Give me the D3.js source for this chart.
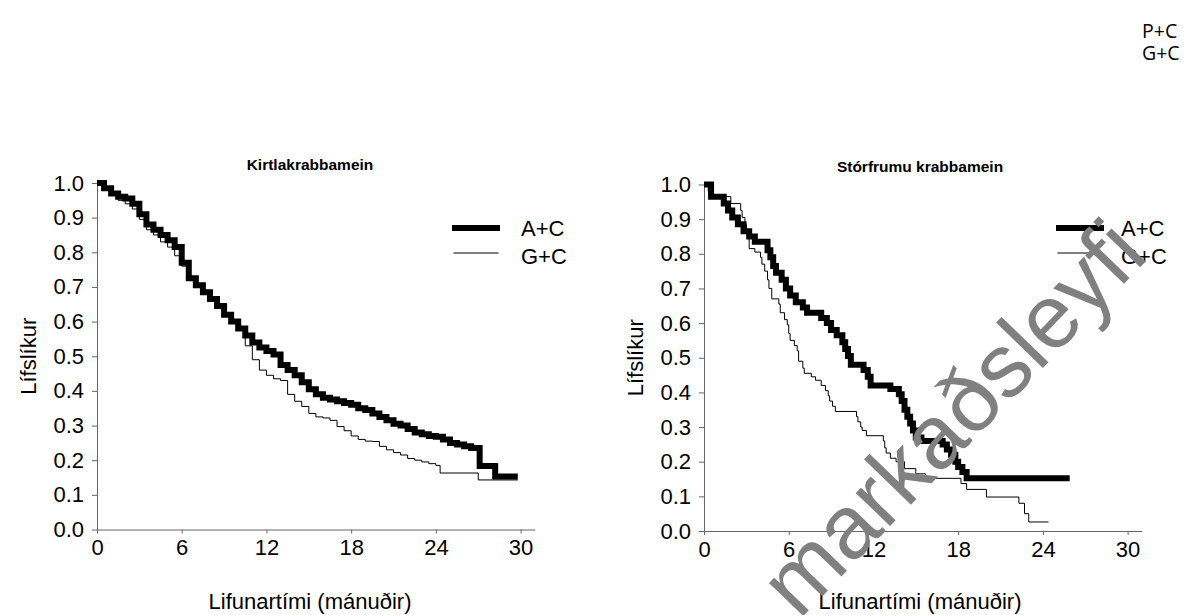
<!DOCTYPE html>
<html>
<head>
<meta charset="utf-8">
<script src="https://cdn.jsdelivr.net/npm/d3@7"></script>
<style>
body { margin: 0; background: #fff; }
text { font-family: "Liberation Sans", Arial, sans-serif; }
</style>
</head>
<body>
<div class="chart"></div>
<script>
//tick labels and texts
var months = [0, 6, 12, 18, 24, 30];
var survival = [0, 0.1, 0.2, 0.3, 0.4, 0.5, 0.6, 0.7, 0.8, 0.9, 1.0];
var seriesNames = ["A+C", "G+C"];
var cornerLegend = ["P+C", "G+C"];
var panelTitles = ["Kirtlakrabbamein", "Stórfrumu krabbamein"];
var xTitle = "Lifunartími (mánuðir)";
var yTitle = "Lífslíkur";
var watermark = "markaðsleyfi";

//Kaplan-Meier steps: [month, survival]
var kirtlaAC = [[0,1.0],[0.5,0.985],[1,0.97],[1.5,0.96],[2,0.955],[2.5,0.94],[3,0.91],[3.5,0.88],[4,0.865],[4.5,0.85],[5,0.835],[5.5,0.815],[6,0.77],[6.5,0.725],[7,0.705],[7.5,0.685],[8,0.665],[8.5,0.645],[9,0.62],[9.5,0.6],[10,0.58],[10.5,0.56],[11,0.54],[11.5,0.525],[12,0.515],[12.5,0.505],[13,0.475],[13.5,0.46],[14,0.445],[14.5,0.425],[15,0.405],[15.5,0.39],[16,0.38],[16.5,0.375],[17,0.37],[17.5,0.365],[18,0.36],[18.5,0.35],[19,0.345],[19.5,0.335],[20,0.325],[20.5,0.315],[21,0.305],[21.5,0.3],[22,0.29],[22.5,0.28],[23,0.275],[23.5,0.27],[24,0.268],[24.5,0.26],[25,0.25],[25.5,0.245],[26,0.24],[26.5,0.235],[27.1,0.183],[28.2,0.153],[29.8,0.153]];

var kirtlaGC = [[0,1.0],[0.5,0.985],[1,0.97],[1.5,0.95],[2,0.94],[2.5,0.925],[3,0.895],[3.5,0.865],[4,0.85],[4.5,0.83],[5,0.815],[5.5,0.79],[6,0.76],[6.5,0.725],[7,0.705],[7.5,0.685],[8,0.665],[8.5,0.645],[9,0.62],[9.5,0.6],[10,0.575],[10.5,0.53],[11,0.49],[11.5,0.46],[12,0.445],[12.5,0.435],[13,0.43],[13.5,0.39],[14,0.37],[14.5,0.355],[15,0.335],[15.5,0.325],[16,0.322],[16.5,0.315],[17,0.297],[17.5,0.285],[18,0.27],[18.5,0.26],[19,0.255],[19.5,0.254],[20,0.24],[20.5,0.23],[21,0.222],[21.5,0.215],[22,0.205],[22.5,0.2],[23,0.195],[23.5,0.19],[24,0.185],[24.3,0.163],[27,0.143],[29.8,0.143]];

var storAC = [[0,1.0],[0.5,0.965],[1.4,0.945],[1.7,0.925],[2.0,0.905],[2.4,0.885],[2.8,0.865],[3.2,0.85],[3.6,0.835],[4.5,0.81],[4.7,0.79],[4.9,0.765],[5.1,0.745],[5.5,0.725],[5.8,0.7],[6.1,0.68],[6.5,0.66],[7.0,0.645],[7.3,0.63],[8.3,0.615],[8.7,0.6],[9.0,0.58],[9.4,0.565],[9.8,0.545],[10.0,0.525],[10.2,0.505],[10.4,0.48],[11.3,0.465],[11.6,0.445],[11.8,0.42],[13.2,0.41],[13.8,0.395],[14.0,0.375],[14.2,0.35],[14.4,0.33],[14.6,0.31],[14.8,0.29],[15.0,0.27],[15.4,0.26],[16.9,0.25],[17.2,0.235],[17.5,0.22],[17.8,0.2],[18.0,0.185],[18.3,0.17],[18.6,0.152],[25.9,0.152]];

var storGC = [[0,1.0],[0.3,0.98],[0.6,0.965],[1.9,0.945],[2.6,0.925],[2.7,0.905],[2.9,0.885],[3.0,0.865],[3.1,0.85],[3.2,0.815],[3.6,0.805],[4.0,0.79],[4.1,0.77],[4.3,0.75],[4.5,0.725],[4.6,0.7],[4.8,0.67],[5.3,0.655],[5.4,0.63],[5.7,0.61],[5.9,0.595],[6.0,0.57],[6.1,0.55],[6.4,0.535],[6.6,0.52],[6.7,0.49],[7.0,0.47],[7.1,0.455],[7.6,0.445],[7.9,0.435],[8.3,0.42],[8.6,0.405],[8.8,0.39],[8.9,0.375],[9.1,0.36],[9.3,0.345],[10.8,0.33],[10.9,0.315],[11.1,0.3],[11.2,0.29],[11.5,0.275],[12.7,0.26],[12.8,0.24],[12.9,0.225],[13.2,0.21],[13.6,0.2],[14.2,0.18],[15.0,0.165],[15.7,0.152],[18.2,0.137],[18.6,0.12],[20.0,0.098],[22.3,0.08],[22.7,0.05],[23.0,0.026],[24.4,0.026]];

var W = 1190, H = 615;

var svg = d3.select(".chart").append("svg")
	.attr("width", W)
	.attr("height", H);

svg.append("rect").attr("width", W).attr("height", H).attr("fill", "white");

//one panel = one survival plot
function drawPanel(p){
	var x = d3.scaleLinear().domain([0, 31]).range([p.left, p.left + 31 * 14.12]);
	var y = d3.scaleLinear().domain([0, 1]).range([p.bottom, p.top]);
	var g = svg.append("g");

	g.append("g")
		.attr("transform", "translate(0," + p.bottom + ")")
		.call(d3.axisBottom(x).tickValues(months).tickSize(4).tickSizeOuter(0).tickPadding(6));
	g.append("g")
		.attr("transform", "translate(" + p.left + ",0)")
		.call(d3.axisLeft(y).tickValues(survival).tickSize(5).tickSizeOuter(0).tickPadding(8).tickFormat(d3.format(".1f")));

	g.selectAll(".domain, .tick line").attr("stroke", "#666");
	g.selectAll(".tick text")
		.attr("fill", "black")
		.style("font-size", "22px")
		.style("font-family", "'Liberation Sans', Arial, sans-serif");

	var line = d3.line()
		.x(function(d){ return x(d[0]); })
		.y(function(d){ return y(d[1]); })
		.curve(d3.curveStepAfter);

	g.append("path").datum(p.gc)
		.attr("d", line)
		.attr("fill", "none")
		.attr("stroke", "black")
		.attr("stroke-width", 1);
	g.append("path").datum(p.ac)
		.attr("d", line)
		.attr("fill", "none")
		.attr("stroke", "black")
		.attr("stroke-width", 6);

	g.append("text")
		.attr("x", p.titleX).attr("y", p.top - 13)
		.attr("text-anchor", "middle")
		.style("font-size", "15.5px").style("font-weight", "bold")
		.text(p.title);

	g.append("text")
		.attr("transform", "translate(" + (p.left - 69) + "," + ((p.top + p.bottom) / 2) + ") rotate(-90)")
		.attr("text-anchor", "middle")
		.attr("dy", "0.35em")
		.style("font-size", "22px")
		.text(yTitle);

	g.append("text")
		.attr("x", p.titleX).attr("y", 609)
		.attr("text-anchor", "middle")
		.style("font-size", "22px")
		.text(xTitle);

	//legend
	var leg = g.selectAll(".leg")
		.data(seriesNames)
		.enter()
		.append("g");
	leg.append("line")
		.attr("x1", function(d, i){ return p.legX + (i ? 1.5 : 0); })
		.attr("x2", function(d, i){ return p.legX + 48 - (i ? 1.5 : 0); })
		.attr("y1", function(d, i){ return 228 + i * 25; })
		.attr("y2", function(d, i){ return 228 + i * 25; })
		.attr("stroke", "black")
		.attr("stroke-width", function(d, i){ return i ? 1 : 6; });
	leg.append("text")
		.attr("x", p.legTextX)
		.attr("y", function(d, i){ return 228 + i * 28; })
		.attr("dy", "0.35em")
		.style("font-size", "22px")
		.text(function(d){ return d; });
}

drawPanel({left: 97, top: 183, bottom: 529.5, titleX: 310, legX: 452, legTextX: 521, title: panelTitles[0], ac: kirtlaAC, gc: kirtlaGC});
drawPanel({left: 704, top: 184.5, bottom: 531, titleX: 920, legX: 1056, legTextX: 1121, title: panelTitles[1], ac: storAC, gc: storGC});

//the odd legend left in the top right corner
svg.selectAll(".corner")
	.data(cornerLegend)
	.enter()
	.append("text")
	.attr("x", 1142)
	.attr("y", function(d, i){ return 31 + i * 22; })
	.attr("dy", "0.35em")
	.style("font-family", "'Open Sans', sans-serif")
	.style("font-size", "19.5px")
	.text(function(d){ return d; });

//watermark on top
svg.append("text")
	.attr("transform", "translate(955,420) rotate(-46)")
	.attr("text-anchor", "middle")
	.attr("dy", "0.3em")
	.attr("fill", "#808080")
	.style("font-size", "90px")
	.text(watermark);
</script>
</body>
</html>
